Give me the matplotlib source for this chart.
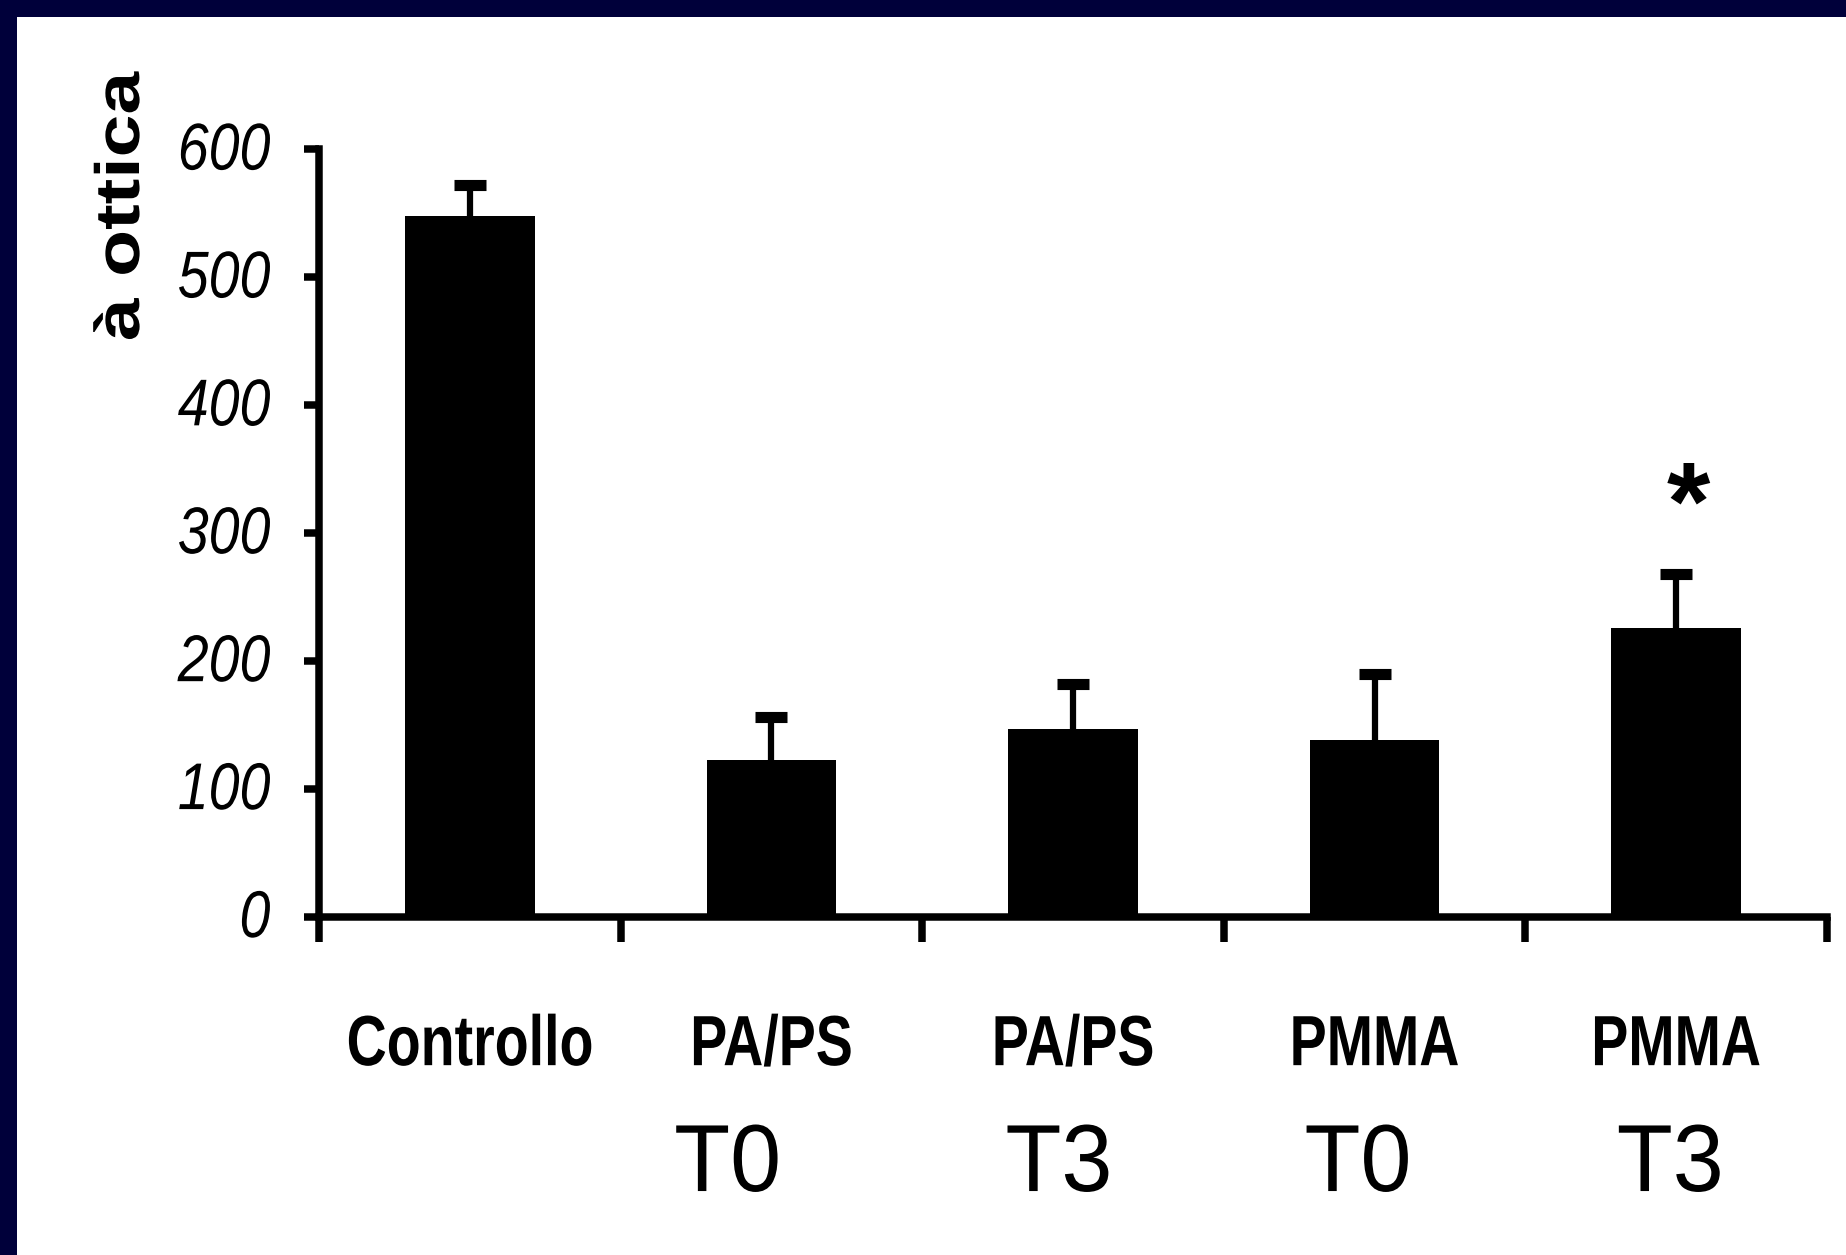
import matplotlib
matplotlib.use("Agg")
import matplotlib.pyplot as plt
from matplotlib.patches import Rectangle
from matplotlib.patheffects import AbstractPathEffect
from matplotlib.transforms import Affine2D

# valori
gruppi = ["Controllo", "PA/PS", "PA/PS", "PMMA", "PMMA"]
tempi = ["", "T0", "T3", "T0", "T3"]
medie = [548, 123, 147, 138, 226]
errori = [24, 33, 35, 52, 42]
significativo = [False, False, False, False, True]
yticks = [0, 100, 200, 300, 400, 500, 600]


# la diapositiva originale e' "stirata" in verticale: allunga il testo allo stesso modo
class Stretch(AbstractPathEffect):
    def __init__(self, sy):
        super().__init__()
        self.sy = sy

    def draw_path(self, renderer, gc, tpath, affine, rgbFace=None):
        m = affine.get_matrix()
        tx, ty = m[0, 2], m[1, 2]
        st = affine + Affine2D().translate(-tx, -ty).scale(1, self.sy).translate(tx, ty)
        renderer.draw_path(gc, tpath, st, rgbFace)


font = "Liberation Sans"
bordo = "#00003a"

fig = plt.figure(figsize=(18.46, 12.55), dpi=100, facecolor="white")

# cornice blu scuro (solo sopra e a sinistra)
fig.add_artist(Rectangle((0, 1 - 17 / 1255), 1, 17 / 1255, transform=fig.transFigure,
                         facecolor=bordo, edgecolor="none", zorder=0))
fig.add_artist(Rectangle((0, 0), 17 / 1846, 1, transform=fig.transFigure,
                         facecolor=bordo, edgecolor="none", zorder=0))

ax = fig.add_axes([0.1728, 0.2693, 0.8169, 0.6116])

x = [i + 0.5 for i in range(len(medie))]
ax.bar(x, medie, width=0.43, color="black", zorder=2)
eb = ax.errorbar(x, medie, yerr=[[0] * len(errori), errori], fmt="none", ecolor="black",
                 elinewidth=4.5, capsize=11.5, capthick=8, zorder=1)
eb[1][0].set_visible(False)  # niente cappuccio inferiore

ax.set_xlim(0, len(medie))
ax.set_ylim(0, 600)
ax.set_xticks(range(len(medie) + 1))
ax.set_xticklabels([])
ax.set_yticks(yticks)
ax.set_yticklabels([str(v) for v in yticks], fontfamily=font, fontstyle="italic", fontsize=40)
for lab in ax.get_yticklabels():
    lab.set_path_effects([Stretch(1.19)])

for s in ["top", "right"]:
    ax.spines[s].set_visible(False)
for s in ["left", "bottom"]:
    ax.spines[s].set_linewidth(5.4)
ax.tick_params(axis="y", direction="out", length=11, width=5.4, pad=24)
ax.tick_params(axis="x", direction="out", length=18, width=5.4)

# piccoli spostamenti orizzontali delle etichette T0/T3 come nella diapositiva
sposta_tempi = [0, -0.145, -0.047, -0.055, -0.02]

tr = ax.get_xaxis_transform()
for i in range(len(gruppi)):
    ax.text(x[i], -0.193, gruppi[i], transform=tr, ha="center", va="baseline",
            fontfamily=font, fontweight="bold", fontsize=40,
            path_effects=[Stretch(1.28)])
    if tempi[i]:
        ax.text(x[i] + sposta_tempi[i], -0.357, tempi[i], transform=tr, ha="center",
                va="baseline", fontfamily=font, fontsize=66, path_effects=[Stretch(1.04)])
    if significativo[i]:
        ax.text(x[i] + 0.04, medie[i] + errori[i] + 50, "*", ha="center", va="center",
                fontfamily=font, fontweight="bold", fontsize=80)

fig.text(139 / 1846, 1 - 341 / 1255, "à ottica", rotation=90, rotation_mode="anchor",
         ha="left", va="baseline", fontfamily=font, fontweight="bold", fontsize=45,
         path_effects=[Stretch(1.23)])

fig.savefig("out.png", dpi=100, facecolor="white")
